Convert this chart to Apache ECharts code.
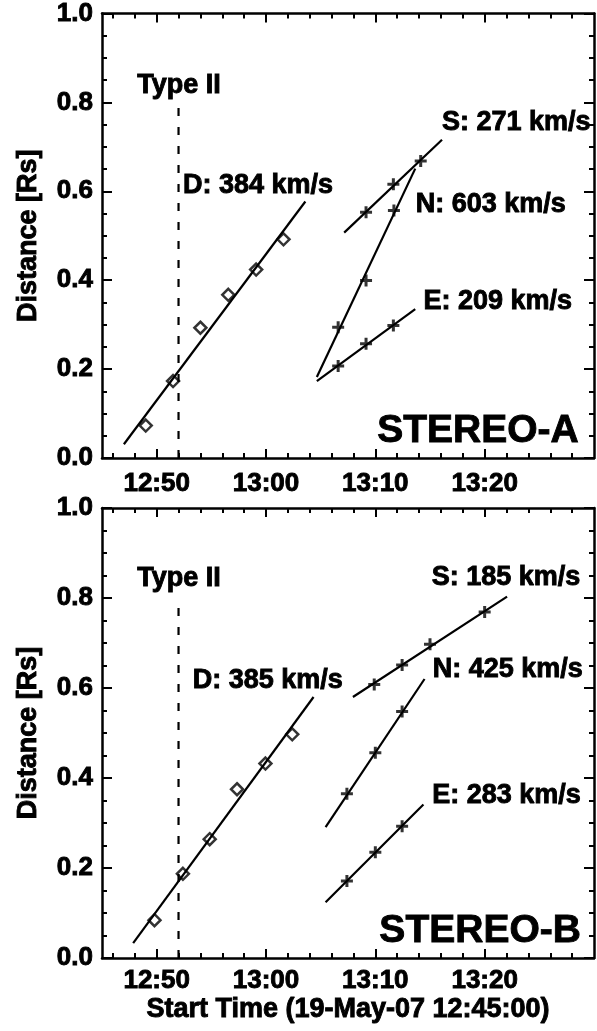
<!DOCTYPE html>
<html><head><meta charset="utf-8">
<script src="https://cdn.jsdelivr.net/npm/echarts@6/dist/echarts.min.js"></script>
<style>html,body{margin:0;padding:0;background:#fff}#c{width:597px;height:1031px}</style>
</head><body><div id="c"></div>
<script>
// Time values are minutes after the start time 19-May-07 12:45:00
const xMajorTicks = [5, 15, 25, 35];
const xTickLabels = ['12:50', '13:00', '13:10', '13:20'];
const xMinorTicks = [1, 3, 7, 9, 11, 13, 17, 19, 21, 23, 27, 29, 31, 33, 37, 39, 41, 43];

const typeIITime = [7, 7];
const typeIIDist = [0, 0.8];

// ---- STEREO-A ----
const aDTime = [4.0, 6.5, 9.0, 11.55, 14.1, 16.6];
const aDDist = [0.073, 0.173, 0.293, 0.367, 0.424, 0.492];
const aDFitTime = [2.0, 18.6];
const aDFitDist = [0.031, 0.577];
const aSTime = [24.15, 26.65, 29.15];
const aSDist = [0.553, 0.616, 0.668];
const aSFitTime = [22.15, 31.1];
const aSFitDist = [0.507, 0.716];
const aNTime = [21.6, 24.15, 26.7];
const aNDist = [0.294, 0.399, 0.557];
const aNFitTime = [19.65, 28.65];
const aNFitDist = [0.182, 0.651];
const aETime = [21.6, 24.15, 26.65];
const aEDist = [0.207, 0.257, 0.298];
const aEFitTime = [19.65, 28.65];
const aEFitDist = [0.173, 0.335];
const aNoteText = ['Type II', 'D: 384 km/s', 'S: 271 km/s', 'N: 603 km/s', 'E: 209 km/s', 'STEREO-A'];
const aNoteTime = [7.05, 7.4, 31.1, 28.7, 29.4, 43.6];
const aNoteDist = [0.838, 0.613, 0.755, 0.570, 0.353, 0.06];

// ---- STEREO-B ----
const bDTime = [4.8, 7.4, 9.85, 12.35, 14.95, 17.4];
const bDDist = [0.084, 0.187, 0.264, 0.375, 0.432, 0.497];
const bDFitTime = [2.85, 19.35];
const bDFitDist = [0.033, 0.580];
const bSTime = [24.9, 27.45, 30.0, 35.0];
const bSDist = [0.608, 0.651, 0.697, 0.769];
const bSFitTime = [22.95, 37.05];
const bSFitDist = [0.580, 0.803];
const bNTime = [22.4, 25.0, 27.45];
const bNDist = [0.365, 0.456, 0.548];
const bNFitTime = [20.45, 29.5];
const bNFitDist = [0.291, 0.620];
const bETime = [22.4, 25.0, 27.45];
const bEDist = [0.171, 0.235, 0.293];
const bEFitTime = [20.45, 29.4];
const bEFitDist = [0.124, 0.341];
const bNoteText = ['Type II', 'D: 385 km/s', 'S: 185 km/s', 'N: 425 km/s', 'E: 283 km/s', 'STEREO-B'];
const bNoteTime = [7.05, 8.3, 30.15, 30.25, 30.2, 43.8];
const bNoteDist = [0.844, 0.617, 0.846, 0.640, 0.362, 0.059];

const FONT = '"Liberation Sans", Arial, Helvetica, sans-serif';
const zip = (a, b) => a.map((v, i) => [v, b[i]]);

const panels = [
  {D: [aDTime, aDDist], DF: [aDFitTime, aDFitDist], S: [aSTime, aSDist], SF: [aSFitTime, aSFitDist],
   N: [aNTime, aNDist], NF: [aNFitTime, aNFitDist], E: [aETime, aEDist], EF: [aEFitTime, aEFitDist],
   notes: [aNoteText, aNoteTime, aNoteDist]},
  {D: [bDTime, bDDist], DF: [bDFitTime, bDFitDist], S: [bSTime, bSDist], SF: [bSFitTime, bSFitDist],
   N: [bNTime, bNDist], NF: [bNFitTime, bNFitDist], E: [bETime, bEDist], EF: [bEFitTime, bEFitDist],
   notes: [bNoteText, bNoteTime, bNoteDist]}
];

const grids = [
  {left: 102, right: 3, top: 8, height: 450},
  {left: 102, right: 3, top: 508, height: 450}
];

const xAxes = [], yAxes = [], series = [];
const black = '#000';
const AXW = 2.5;
const textBold = {color: black, opacity: 1, fontWeight: 'bold', fontFamily: FONT, textBorderColor: black, textBorderWidth: 0.9};

panels.forEach((p, g) => {
  const base = {gridIndex: g, type: 'value', min: 0, max: 45, splitLine: {show: false}};
  // bottom major
  xAxes.push(Object.assign({}, base, {
    position: 'bottom',
    axisLine: {show: true, onZero: false, lineStyle: {color: black, width: AXW}},
    axisTick: {show: true, inside: true, length: 9, customValues: xMajorTicks, lineStyle: {color: black, width: 2}},
    axisLabel: Object.assign({show: true, customValues: xMajorTicks, margin: g === 0 ? 13 : 10,
      formatter: v => xTickLabels[xMajorTicks.indexOf(v)] || '', fontSize: 26}, textBold),
    name: g === 1 ? 'Start Time (19-May-07 12:45:00)' : '',
    nameLocation: 'middle', nameGap: 35,
    nameTextStyle: Object.assign({fontSize: 27}, textBold)
  }));
  // bottom minor
  xAxes.push(Object.assign({}, base, {
    position: 'bottom',
    axisLine: {show: false, onZero: false},
    axisTick: {show: true, inside: true, length: 5, customValues: xMinorTicks, lineStyle: {color: black, width: 2}},
    axisLabel: {show: false}
  }));
  // top major
  xAxes.push(Object.assign({}, base, {
    position: 'top',
    axisLine: {show: true, onZero: false, lineStyle: {color: black, width: AXW}},
    axisTick: {show: true, inside: true, length: 9, customValues: xMajorTicks, lineStyle: {color: black, width: 2}},
    axisLabel: {show: false}
  }));
  // top minor
  xAxes.push(Object.assign({}, base, {
    position: 'top',
    axisLine: {show: false, onZero: false},
    axisTick: {show: true, inside: true, length: 5, customValues: xMinorTicks, lineStyle: {color: black, width: 2}},
    axisLabel: {show: false}
  }));

  const ybase = {gridIndex: g, type: 'value', min: 0, max: 1, interval: 0.2,
    splitLine: {show: false}, minorSplitLine: {show: false},
    axisTick: {show: true, inside: true, length: 10, lineStyle: {color: black, width: 2}},
    minorTick: {show: true, splitNumber: 4, length: 5, lineStyle: {color: black, width: 2}},
    axisLine: {show: true, onZero: false, lineStyle: {color: black, width: AXW}}};
  yAxes.push(Object.assign({}, ybase, {
    position: 'left',
    axisLabel: Object.assign({show: true, margin: 9, formatter: v => v.toFixed(1), fontSize: 26}, textBold),
    name: 'Distance [Rs]', nameLocation: 'middle', nameGap: 60,
    nameTextStyle: Object.assign({fontSize: 27}, textBold)
  }));
  yAxes.push(Object.assign({}, ybase, {position: 'right', axisLabel: {show: false}}));

  const xi = g * 4, yi = g * 2;
  const lineSeries = (arr, dashed) => ({
    type: 'line', xAxisIndex: xi, yAxisIndex: yi, data: zip(arr[0], arr[1]),
    symbol: 'none', silent: true, z: 2,
    lineStyle: {color: black, width: 2.2, type: dashed ? [8, 11] : 'solid'}
  });
  series.push(lineSeries([typeIITime, typeIIDist], true));
  series.push(lineSeries(p.DF));
  series.push(lineSeries(p.SF));
  series.push(lineSeries(p.NF));
  series.push(lineSeries(p.EF));
  series.push({
    type: 'scatter', xAxisIndex: xi, yAxisIndex: yi, data: zip(p.D[0], p.D[1]),
    symbol: 'diamond', symbolSize: 12, z: 3, silent: true,
    itemStyle: {color: 'rgba(0,0,0,0)', borderColor: black, borderWidth: 2.5}
  });
  [p.S, p.N, p.E].forEach(arr => series.push({
    type: 'scatter', xAxisIndex: xi, yAxisIndex: yi, data: zip(arr[0], arr[1]),
    symbol: 'path://M0,5L10,5M5,0L5,10', symbolSize: 12, z: 3, silent: true,
    itemStyle: {color: 'rgba(0,0,0,0)', borderColor: black, borderWidth: 3}
  }));
  // annotations
  const [txt, tt, dd] = p.notes;
  series.push({
    type: 'scatter', xAxisIndex: xi, yAxisIndex: yi, silent: true, z: 4,
    symbolSize: 1, itemStyle: {color: 'rgba(0,0,0,0)'},
    data: txt.map((t, i) => {
      const last = i === txt.length - 1;
      return {
        value: [tt[i], dd[i]],
        label: Object.assign({
          show: true, position: 'inside', formatter: t,
          align: i === 0 ? 'center' : (last ? 'right' : 'left'),
          verticalAlign: 'middle',
          fontSize: last ? 39 : 27
        }, textBold)
      };
    })
  });
});

const chart = echarts.init(document.getElementById('c'), null, {renderer: 'canvas'});
chart.setOption({
  animation: false,
  backgroundColor: '#fff',
  textStyle: {fontFamily: FONT},
  grid: grids,
  xAxis: xAxes,
  yAxis: yAxes,
  series: series
});
</script>
</body></html>
